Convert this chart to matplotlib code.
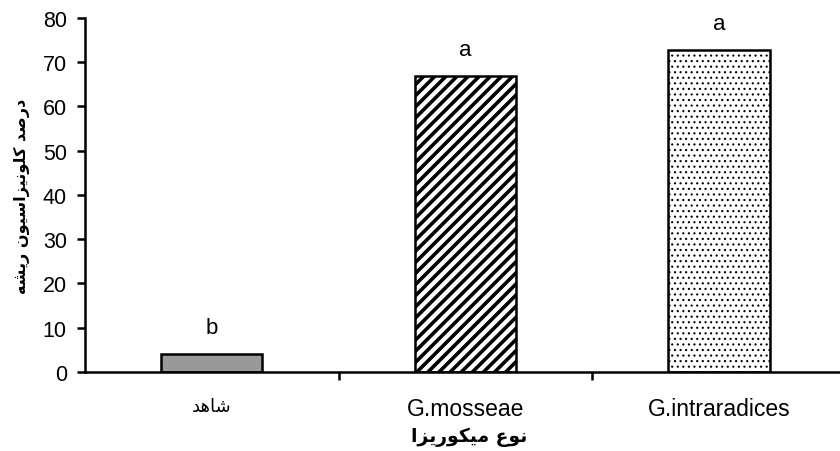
import matplotlib
matplotlib.use("Agg")
import matplotlib.pyplot as plt

# data
categories = ["شاهد", "G.mosseae", "G.intraradices"]
values = [4.0, 66.8, 72.7]
letters = ["b", "a", "a"]
y_label = "درصد کلونیزاسیون ریشه"
x_label = "نوع میکوریزا"

# minimal Persian shaping (matplotlib has no bidi / joining support)
FORMS = {
    "ا": ("\uFE8D", "\uFE8E"), "د": ("\uFEA9", "\uFEAA"), "ر": ("\uFEAD", "\uFEAE"),
    "ز": ("\uFEAF", "\uFEB0"), "و": ("\uFEED", "\uFEEE"),
    "س": ("\uFEB1", "\uFEB2", "\uFEB3", "\uFEB4"), "ش": ("\uFEB5", "\uFEB6", "\uFEB7", "\uFEB8"),
    "ص": ("\uFEB9", "\uFEBA", "\uFEBB", "\uFEBC"), "ع": ("\uFEC9", "\uFECA", "\uFECB", "\uFECC"),
    "ل": ("\uFEDD", "\uFEDE", "\uFEDF", "\uFEE0"), "م": ("\uFEE1", "\uFEE2", "\uFEE3", "\uFEE4"),
    "ن": ("\uFEE5", "\uFEE6", "\uFEE7", "\uFEE8"), "ه": ("\uFEE9", "\uFEEA", "\uFEEB", "\uFEEC"),
    "ک": ("\uFB8E", "\uFB8F", "\uFB90", "\uFB91"), "ی": ("\uFBFC", "\uFBFD", "\uFBFE", "\uFBFF"),
}


def shape(text):
    if not any(ch in FORMS for ch in text):
        return text
    out = []
    for i, ch in enumerate(text):
        if ch not in FORMS:
            out.append(ch)
            continue
        prev = text[i - 1] if i > 0 else ""
        nxt = text[i + 1] if i + 1 < len(text) else ""
        j_prev = prev in FORMS and len(FORMS[prev]) == 4
        j_next = len(FORMS[ch]) == 4 and nxt in FORMS
        f = FORMS[ch]
        if j_prev and j_next:
            out.append(f[3])
        elif j_prev:
            out.append(f[1])
        elif j_next:
            out.append(f[2])
        else:
            out.append(f[0])
    return "".join(out)[::-1]


plt.rcParams["font.family"] = ["Liberation Sans", "DejaVu Sans"]
plt.rcParams["hatch.color"] = "black"

fig = plt.figure(figsize=(8.4, 4.52), dpi=100)
ax = fig.add_axes([0.101, 0.175, 0.906, 0.783])

x = range(len(categories))
bars = ax.bar(x, values, width=0.4, edgecolor="black", linewidth=1.8,
              color=["#999999", "white", "white"])
bars[1].set_hatch("///")
bars[2].set_hatch("...")
try:
    bars[1].set_hatch_linewidth(2.6)
    bars[2].set_hatch_linewidth(0.8)
except AttributeError:
    plt.rcParams["hatch.linewidth"] = 2.0

for xi, v, lt in zip(x, values, letters):
    ax.annotate(lt, (xi, v), xytext=(0, 12), textcoords="offset points",
                ha="center", va="bottom", fontsize=16)

ax.set_xlim(-0.5, 2.5)
ax.set_ylim(0, 80)
ax.set_yticks(range(0, 81, 10))
ax.tick_params(axis="y", labelsize=15.5, width=1.8, length=6, direction="out", pad=7)
ax.set_xticks(list(x))
ax.set_xticklabels([shape(c) for c in categories], fontsize=16.5)
ax.tick_params(axis="x", length=0, pad=18)
ax.set_xticks([0.5, 1.5], minor=True)
ax.tick_params(axis="x", which="minor", length=6, width=1.8, direction="out")
ax.xaxis.get_ticklabels()[0].set_fontfamily("DejaVu Sans")
ax.xaxis.get_ticklabels()[0].set_fontsize(13)

for s in ["top", "right"]:
    ax.spines[s].set_visible(False)
for s in ["left", "bottom"]:
    ax.spines[s].set_linewidth(1.8)

ax.set_ylabel(shape(y_label), fontfamily="DejaVu Sans", fontweight="bold", fontsize=11.5)
ax.yaxis.label.set_va("center")
ax.yaxis.set_label_coords(-0.083, 0.5)
ax.set_xlabel(shape(x_label), fontfamily="DejaVu Sans", fontweight="bold", fontsize=13.5)
ax.xaxis.label.set_va("center")
ax.xaxis.set_label_coords(0.505, -0.181)

fig.savefig("out.png", dpi=100)
